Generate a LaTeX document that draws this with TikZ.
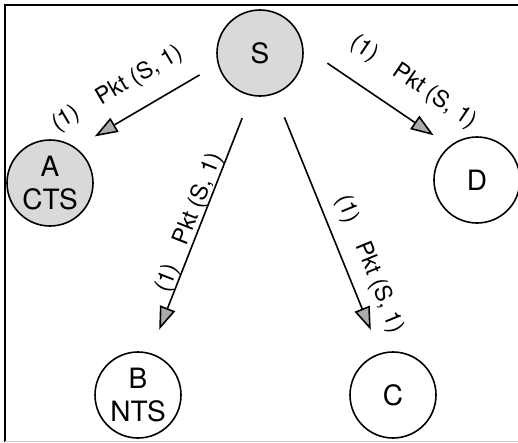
\documentclass[tikz,border=0pt]{standalone}
\usepackage{fontspec}
\setmainfont{TeX Gyre Heros}
\usetikzlibrary{arrows.meta}

\begin{document}
\begin{tikzpicture}
  [ x=1pt, y=-1pt,
    stn/.style={circle, draw=black, line width=1.6pt, minimum size=86pt, inner sep=0pt, align=center, font=\fontsize{28}{33}\selectfont},
    stn1/.style={stn, fill=gray!30},
    stn2/.style={stn, fill=white},
    pkt/.style={-{Triangle[length=23pt, width=16pt, fill=gray!65]}, line width=1.6pt, black},
    lbl/.style={sloped, inner sep=3pt, font=\fontsize{23}{26}\selectfont}
  ]

  \useasboundingbox (0,0) rectangle (518,442);
  % frame
  \draw[line width=2.5pt] (5,442) -- (5,5) -- (518,5);
  \draw[gray!40, line width=1pt] (5,441) -- (518,441);

  \node[stn1] (s) at (260,53) {S};
  \node[stn1] (a) at (50,183) {A\\CTS};
  \node[stn2] (d) at (477,180) {D};
  \node[stn2] (b) at (138,395) {B\\NTS};
  \node[stn2] (c) at (393,395) {C};

  \draw[pkt, shorten <=21pt, shorten >=22pt] (s.195) -- node[lbl, pos=0.6, above=15pt] {(1)\quad Pkt (S, 1)} (a.54);
  \draw[pkt, shorten <=24pt, shorten >=25pt] (s.258) -- node[lbl, pos=0.51, above=-4pt] {(1)\quad Pkt (S, 1)} (b.74);
  \draw[pkt, shorten <=25pt, shorten >=25pt] (s.290) -- node[lbl, pos=0.69, above=9pt] {(1)\quad Pkt (S, 1)} (c.107);
  \draw[pkt, shorten <=29pt, shorten >=19pt] (s.8) -- node[lbl, pos=0.63, above=18pt] {(1)\quad Pkt (S, 1)} (d.129);
\end{tikzpicture}
\end{document}
